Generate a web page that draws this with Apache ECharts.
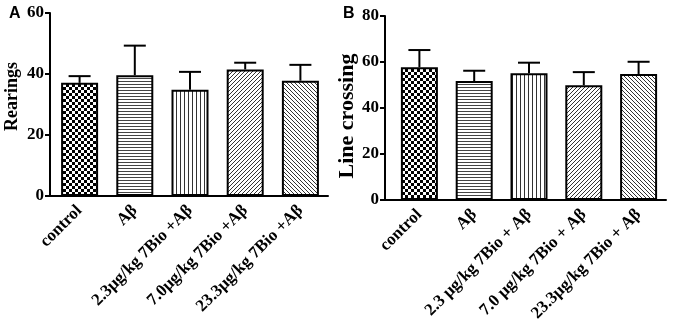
<!DOCTYPE html>
<html>
<head>
<meta charset="utf-8">
<script src="https://cdn.jsdelivr.net/npm/echarts@6/dist/echarts.min.js"></script>
<style>html,body{margin:0;padding:0;background:#fff}#c{width:674px;height:335px}</style>
</head>
<body>
<div id="c"></div>
<script>
var categoriesA = ['control', 'Aβ', '2.3μg/kg 7Bio +Aβ', '7.0μg/kg 7Bio +Aβ', '23.3μg/kg 7Bio +Aβ'];
var categoriesB = ['control', 'Aβ', '2.3 μg/kg 7Bio + Aβ', '7.0 μg/kg 7Bio + Aβ', '23.3μg/kg 7Bio + Aβ'];
var rearingsMean = [37.1, 39.6, 34.8, 41.5, 37.8];
var rearingsErr = [2.2, 9.7, 5.9, 2.2, 5.2];
var crossingMean = [57.7, 51.7, 55.1, 49.9, 54.8];
var crossingErr = [7.5, 4.5, 4.6, 5.7, 5.3];
var ticksA = [0, 20, 40, 60];
var ticksB = [0, 20, 40, 60, 80];

function tile(w, h, draw) {
  var c = document.createElement('canvas');
  c.width = w; c.height = h;
  var g = c.getContext('2d');
  g.fillStyle = '#fff'; g.fillRect(0, 0, w, h);
  draw(g);
  return c;
}
var patterns = [
  tile(6, 6, function (g) { g.fillStyle = '#000'; g.fillRect(0, 0, 3, 3); g.fillRect(3, 3, 3, 3); }),
  tile(3, 3, function (g) { g.fillStyle = '#444'; g.fillRect(0, 0, 3, 1); }),
  tile(4, 4, function (g) { g.fillStyle = '#333'; g.fillRect(0, 0, 1, 4); }),
  tile(4, 4, function (g) { g.fillStyle = '#333'; for (var i = 0; i < 4; i++) g.fillRect(i, 3 - i, 1, 1); }),
  tile(4, 4, function (g) { g.fillStyle = '#333'; for (var i = 0; i < 4; i++) g.fillRect(i, i, 1, 1); })
];

var serif = '"Liberation Serif", "Times New Roman", serif';

function barData(means) {
  return means.map(function (v, i) {
    return { value: v, itemStyle: { color: { image: patterns[i], repeat: 'repeat' } } };
  });
}
function errData(means, errs) {
  return means.map(function (v, i) { return [i, v, v + errs[i]]; });
}
function renderErr(params, api) {
  var base = api.coord([api.value(0), api.value(1)]);
  var top = api.coord([api.value(0), api.value(2)]);
  var half = 11;
  return {
    type: 'group',
    children: [
      { type: 'line', shape: { x1: base[0], y1: base[1], x2: top[0], y2: top[1] }, style: { stroke: '#000', lineWidth: 2 } },
      { type: 'line', shape: { x1: top[0] - half, y1: top[1], x2: top[0] + half, y2: top[1] }, style: { stroke: '#000', lineWidth: 2 } }
    ]
  };
}
function xAxisCfg(cats, grid) {
  return {
    type: 'category', gridIndex: grid, data: cats,
    axisLine: { lineStyle: { color: '#000', width: 2 } },
    axisTick: { alignWithLabel: true, length: 5, lineStyle: { color: '#000', width: 2 } },
    axisLabel: { interval: 0, rotate: 45, margin: 12, color: '#000', fontFamily: serif, fontWeight: 'bold', fontSize: 17 }
  };
}
function yAxisCfg(grid, max, name, offset, gap, nameSize, pad) {
  return {
    type: 'value', gridIndex: grid, min: 0, max: max, interval: 20, offset: offset,
    name: name, nameLocation: 'middle', nameGap: gap, nameRotate: 90,
    nameTextStyle: { color: '#000', fontFamily: serif, fontWeight: 'bold', fontSize: nameSize, padding: pad },
    splitLine: { show: false },
    axisLine: { show: true, lineStyle: { color: '#000', width: 2 } },
    axisTick: { show: true, length: 5, lineStyle: { color: '#000', width: 2 } },
    axisLabel: { margin: 6, color: '#000', fontFamily: serif, fontWeight: 'bold', fontSize: 17 }
  };
}

var chart = echarts.init(document.getElementById('c'), null, { renderer: 'canvas' });
chart.setOption({
  animation: false,
  backgroundColor: '#fff',
  title: [
    { text: 'A', left: 4, top: 1, textStyle: { fontFamily: 'Liberation Sans, Arial', fontWeight: 'bold', fontSize: 16, color: '#000' } },
    { text: 'B', left: 338, top: 1, textStyle: { fontFamily: 'Liberation Sans, Arial', fontWeight: 'bold', fontSize: 16, color: '#000' } }
  ],
  grid: [
    { left: 52, right: 346, top: 13, bottom: 139 },
    { left: 392, right: 8, top: 16, bottom: 135 }
  ],
  xAxis: [xAxisCfg(categoriesA, 0), xAxisCfg(categoriesB, 1)],
  yAxis: [
    yAxisCfg(0, ticksA[ticksA.length - 1], 'Rearings', 2, 29, 18, [0, 0, 0, 16]),
    yAxisCfg(1, ticksB[ticksB.length - 1], 'Line crossing', 7, 22, 22, [0, 16, 0, 0])
  ],
  series: [
    { type: 'bar', xAxisIndex: 0, yAxisIndex: 0, barWidth: 37, data: barData(rearingsMean), itemStyle: { borderColor: '#000', borderWidth: 2 } },
    { type: 'custom', xAxisIndex: 0, yAxisIndex: 0, renderItem: renderErr, data: errData(rearingsMean, rearingsErr), z: 5 },
    { type: 'bar', xAxisIndex: 1, yAxisIndex: 1, barWidth: 37, data: barData(crossingMean), itemStyle: { borderColor: '#000', borderWidth: 2 } },
    { type: 'custom', xAxisIndex: 1, yAxisIndex: 1, renderItem: renderErr, data: errData(crossingMean, crossingErr), z: 5 }
  ]
});

// join x-axis line to the offset y-axis
function joinAxis(gridIdx, offset) {
  var gr = chart.getModel().getComponent('grid', gridIdx).coordinateSystem.getRect();
  return { type: 'line', shape: { x1: gr.x - offset - 1, y1: gr.y + gr.height, x2: gr.x, y2: gr.y + gr.height }, style: { stroke: '#000', lineWidth: 2 }, z: 10 };
}
chart.setOption({ graphic: [joinAxis(0, 2), joinAxis(1, 7)] });
</script>
</body>
</html>
